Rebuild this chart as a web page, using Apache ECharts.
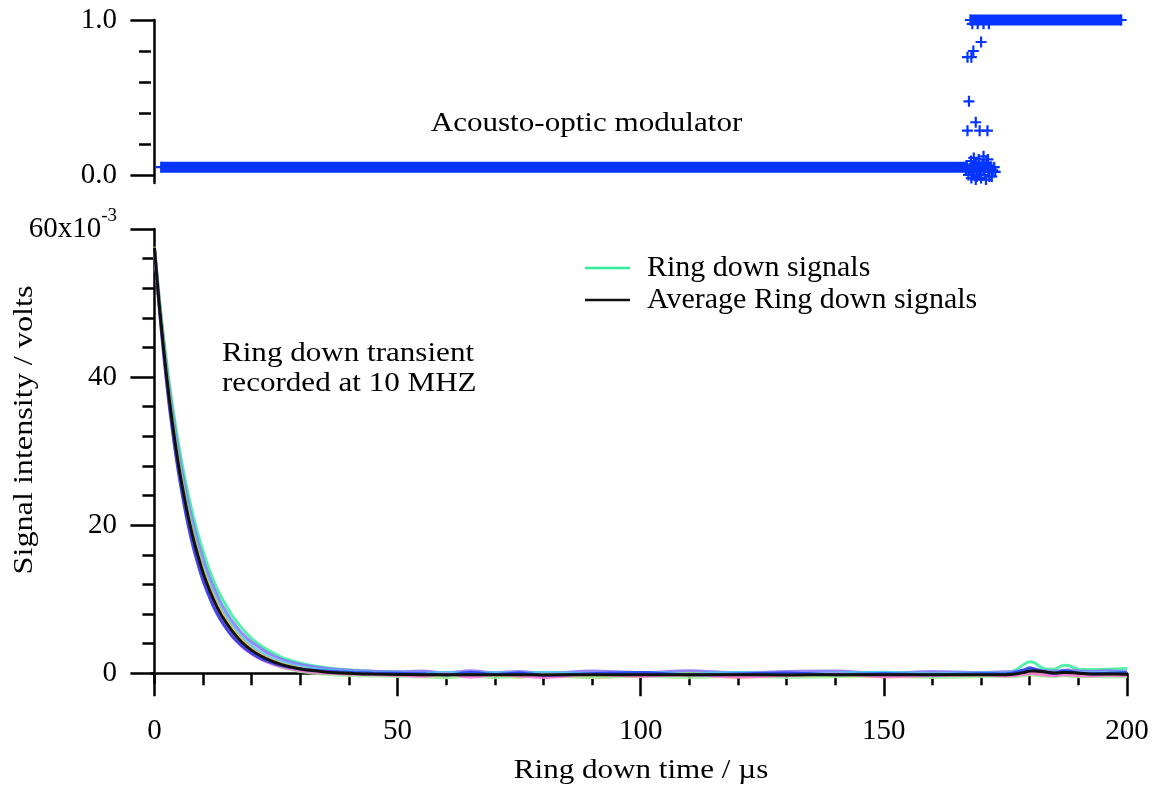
<!DOCTYPE html>
<html><head><meta charset="utf-8">
<script src="https://cdn.jsdelivr.net/npm/echarts@6/dist/echarts.min.js"></script>
<style>html,body{margin:0;padding:0;background:#fff}#c{width:1161px;height:790px}</style>
</head><body><div id="c"></div>
<script>
// ---------------- DATA ----------------
// Ring-down time axis samples (µs)
const t = [0,1,2,3,4,5,6,7,8,9,10,11,12,13,14,16,18,20,22,24,26,28,30,32,35,38,41,45,50,55,60,65,70,75,80,90,100,110,120,130,140,150,160,170,175,177,179,180,181,183,185,187,188,190,193,196,200];

// Average ring down signal (x10^-3 V)
const avgSignal = [57.5,49.8,43.2,37.4,32.4,28.0,24.3,21.0,18.2,15.8,13.6,11.8,10.2,8.8,7.6,5.7,4.2,3.1,2.3,1.67,1.21,0.86,0.59,0.40,0.19,0.05,-0.04,-0.11,-0.15,
  -0.18,-0.2,-0.19,-0.21,-0.2,-0.22,-0.2,-0.21,-0.19,-0.2,-0.22,-0.2,-0.19,-0.21,-0.2,-0.18,-0.1,0.15,0.3,0.32,0.2,0.05,0.1,0.12,0.02,-0.08,-0.1,-0.12];

// Individual ring down signals (x10^-3 V)
const sigGreen = [57.5,50.7,44.8,39.5,34.9,30.8,27.2,24.0,21.2,18.7,16.5,14.5,12.8,11.3,10.0,7.8,6.1,4.7,3.7,2.9,2.2,1.75,1.38,1.1,0.78,0.55,0.4,0.28,0.2,
  0.15,0.05,0.12,0.0,0.1,0.08,0.02,0.12,0.05,0.1,0.0,0.08,0.12,0.05,0.1,0.1,0.4,1.3,1.55,1.4,0.6,0.55,1.1,1.05,0.55,0.5,0.55,0.65];
const sigBlue = [57.4,49.3,42.4,36.4,31.3,26.9,23.1,19.8,17.0,14.6,12.5,10.8,9.2,7.9,6.8,5.0,3.7,2.7,1.95,1.45,1.05,0.8,0.6,0.45,0.3,0.2,0.12,0.05,0.0,
  -0.05,-0.25,0.1,-0.15,0.05,-0.25,-0.05,0.1,-0.2,-0.1,0.05,-0.2,-0.05,-0.2,-0.05,-0.1,0.1,0.5,0.75,0.6,0.2,0.0,0.35,0.3,0.05,-0.05,0.0,0.1];
const sigViolet = [57.6,50.4,44.2,38.7,34.0,29.8,26.1,22.9,20.1,17.6,15.4,13.5,11.9,10.4,9.1,7.0,5.4,4.2,3.3,2.5,1.95,1.5,1.2,0.95,0.68,0.5,0.38,0.27,0.2,
  0.3,0.05,0.35,0.1,0.25,0.0,0.3,0.1,0.35,0.05,0.25,0.3,0.0,0.25,0.1,0.2,0.25,0.45,0.55,0.5,0.35,0.3,0.4,0.45,0.3,0.25,0.35,0.2];
const sigPink = [57.3,49.4,42.6,36.7,31.6,27.2,23.4,20.1,17.2,14.8,12.7,10.9,9.4,8.1,6.9,5.0,3.6,2.6,1.86,1.3,0.9,0.6,0.38,0.2,0.05,-0.05,-0.12,-0.2,-0.25,
  -0.4,-0.1,-0.5,-0.2,-0.35,-0.55,-0.15,-0.4,-0.2,-0.5,-0.3,-0.1,-0.45,-0.3,-0.2,-0.35,-0.3,-0.1,0.0,-0.05,-0.2,-0.3,-0.15,-0.2,-0.3,-0.35,-0.25,-0.3];
const sigLightGreen = [57.5,49.7,43.0,37.2,32.1,27.7,24.0,20.7,17.8,15.4,13.2,11.4,9.8,8.4,7.2,5.2,3.8,2.7,1.9,1.3,0.85,0.5,0.25,0.08,-0.12,-0.25,-0.32,-0.38,-0.42,
  -0.45,-0.6,-0.35,-0.6,-0.45,-0.35,-0.55,-0.4,-0.6,-0.35,-0.55,-0.45,-0.35,-0.55,-0.45,-0.4,-0.45,-0.3,-0.2,-0.25,-0.35,-0.4,-0.3,-0.35,-0.45,-0.4,-0.5,-0.45];
const sigYellow = [57.6,49.9,43.3,37.5,32.5,28.1,24.4,21.1,18.3,15.9,13.7,11.9,10.3,8.9,7.7,5.8,4.3,3.1,2.3,1.65,1.2,0.85,0.6,0.4,0.2,0.06,-0.05,-0.12,-0.18,
  -0.15,-0.35,-0.1,-0.3,-0.4,-0.15,-0.3,-0.35,-0.1,-0.3,-0.2,-0.35,-0.25,-0.15,-0.3,-0.25,-0.2,0.05,0.2,0.15,-0.05,-0.15,0.0,0.05,-0.1,-0.2,-0.25,-0.2];
const sigOrange = [57.5,49.9,43.4,37.7,32.7,28.4,24.7,21.4,18.6,16.2,14.0,12.2,10.6,9.2,8.0,6.0,4.5,3.3,2.45,1.8,1.3,0.95,0.68,0.45,0.22,0.05,-0.08,-0.18,-0.25,
  -0.25,-0.5,-0.3,-0.2,-0.5,-0.25,-0.55,-0.3,-0.25,-0.5,-0.3,-0.2,-0.45,-0.35,-0.25,-0.4,-0.35,-0.2,-0.1,-0.15,-0.3,-0.35,-0.25,-0.3,-0.4,-0.35,-0.3,-0.4];
const sigCyan = [57.6,50.2,43.8,38.2,33.3,29.0,25.3,22.1,19.3,16.8,14.6,12.8,11.1,9.7,8.5,6.5,4.9,3.7,2.8,2.1,1.6,1.2,0.92,0.7,0.45,0.3,0.2,0.1,0.05,
  -0.05,0.15,-0.1,0.1,-0.05,0.15,-0.1,0.1,-0.05,0.12,-0.1,0.05,0.15,-0.05,0.05,0.0,0.1,0.35,0.5,0.45,0.2,0.1,0.3,0.3,0.1,0.05,0.1,0.15];

// Acousto-optic modulator: steady levels (start/end time, level) and scattered samples
const aomLowBand = [[1.4, 0.05], [166.9, 0.05]];
const aomHighBand = [[167.8, 1.0], [198.8, 1.0]];
const aomSamples = [
  [1.4,0.05],[166.9,0.05],[167.8,1.0],[198.8,1.0],
  [168.2,0.975],[169.3,0.975],[170.5,0.975],[171.6,0.975],
  [170.0,0.858],[168.4,0.80],[167.2,0.76],[168.0,0.76],[167.5,0.475],[168.9,0.34],
  [167.2,0.286],[169.7,0.286],[171.3,0.286],
  [166.9,0.03],[167.4,0.0],[167.9,0.09],[168.3,0.02],[168.7,0.07],[169.1,-0.01],[169.5,0.1],
  [169.9,0.03],[170.3,0.06],[170.7,0.0],[171.1,0.08],[171.5,0.02],[171.9,0.05],[172.4,0.03],
  [168.5,0.11],[170.5,0.12],[169.3,0.0],[171.7,-0.01],[172.7,0.05],
  [167.1,0.06],[167.6,0.04],[168.1,0.05],[168.6,0.03],[168.9,0.06],[169.3,0.05],[169.7,0.04],
  [170.1,0.05],[170.5,0.04],[170.9,0.05],[171.3,0.06],[171.7,0.04],[172.1,0.05],[172.9,0.02],
  [168.0,-0.02],[168.9,-0.03],[170.0,-0.02],[171.0,-0.03],[172.2,-0.01],[169.6,0.08],[171.4,0.1]
];

// Tick values
const xMajorTicks = [0, 50, 100, 150, 200];
const xMinorTicks = [10,20,30,40,60,70,80,90,110,120,130,140,160,170,180,190];
const aomMajorTicks = [0, 1];
const aomMinorTicks = [0.2, 0.4, 0.6, 0.8];
const sigMajorTicks = [0, 20, 40, 60];
const sigMinorTicks = [4,8,12,16,24,28,32,36,44,48,52,56];

// Series names / colours
const signalSeries = [
  ['Ring down signals', sigGreen, '#33ee99'],
  ['signal 2', sigViolet, '#8a70ff'],
  ['signal 3', sigCyan, '#55c8f0'],
  ['signal 4', sigOrange, '#ffa850'],
  ['signal 5', sigYellow, '#c8ee10'],
  ['signal 6', sigLightGreen, '#a0f0a0'],
  ['signal 7', sigPink, '#ff70dd'],
  ['signal 8', sigBlue, '#2438ee']
];

// ---------------- CHART ----------------
const FONT = '"Liberation Serif", "Times New Roman", serif';
const pair = arr => t.map((x, i) => [x, arr[i]]).filter(p => p[1] !== undefined);
const plusPath = 'path://M4,0H6V4H10V6H6V10H4V6H0V4H4Z';
const AOM_BLUE = '#0535ff';

const axisLineStyle = { show: true, lineStyle: { color: '#000', width: 2.5 } };

const series = [];
series.push({ type: 'line', name: 'AOM low', xAxisIndex: 0, yAxisIndex: 0, data: aomLowBand, symbol: 'none', clip: false, silent: true,
  lineStyle: { color: AOM_BLUE, width: 11, cap: 'butt' } });
series.push({ type: 'line', name: 'AOM high', xAxisIndex: 0, yAxisIndex: 0, data: aomHighBand, symbol: 'none', clip: false, silent: true,
  lineStyle: { color: AOM_BLUE, width: 11, cap: 'butt' } });
series.push({ type: 'scatter', name: 'AOM', xAxisIndex: 0, yAxisIndex: 0, data: aomSamples, symbol: plusPath, symbolSize: 11, clip: false,
  itemStyle: { color: AOM_BLUE, opacity: 1 } });

signalSeries.forEach(([name, arr, color]) => {
  series.push({ type: 'line', name, xAxisIndex: 1, yAxisIndex: 2, data: pair(arr), symbol: 'none', smooth: 0.3,
    color, lineStyle: { color, width: 3, opacity: 0.85 } });
});
series.push({ type: 'line', name: 'Average Ring down signals', xAxisIndex: 1, yAxisIndex: 2, data: pair(avgSignal), symbol: 'none', smooth: 0.3,
  color: '#111', lineStyle: { color: '#111', width: 3 }, z: 5 });

const chart = echarts.init(document.getElementById('c'), null, { renderer: 'canvas' });
chart.setOption({
  animation: false,
  backgroundColor: '#fff',
  textStyle: { fontFamily: FONT },
  grid: [
    { left: 151, top: 20, width: 976, height: 163, containLabel: false, outerBoundsMode: 'none' },
    { left: 151, top: 229, width: 976, height: 454.3, containLabel: false, outerBoundsMode: 'none' }
  ],
  xAxis: [
    { type: 'value', gridIndex: 0, min: -0.7, max: 200, show: false },
    { type: 'value', gridIndex: 1, min: -0.7, max: 200, position: 'bottom', offset: 0,
      axisLine: axisLineStyle,
      axisTick: { show: true, customValues: xMajorTicks, length: 23, lineStyle: { color: '#000', width: 2.5 } },
      axisLabel: { show: true, customValues: xMajorTicks, margin: 34, color: '#000', fontSize: 29, fontFamily: FONT },
      splitLine: { show: false } },
    { type: 'value', gridIndex: 1, min: -0.7, max: 200, position: 'bottom', offset: 0,
      axisLine: { show: false },
      axisTick: { show: true, customValues: xMinorTicks, length: 12, lineStyle: { color: '#000', width: 2.5 } },
      axisLabel: { show: false }, splitLine: { show: false } }
  ],
  yAxis: [
    { type: 'value', gridIndex: 0, min: -0.052, max: 1.0, position: 'left', offset: 0,
      axisLine: axisLineStyle,
      axisTick: { show: true, customValues: aomMajorTicks, length: 24, lineStyle: { color: '#000', width: 2.5 } },
      axisLabel: { show: true, customValues: aomMajorTicks, margin: 34, color: '#000', fontSize: 29, fontFamily: FONT,
        formatter: v => Number(v).toFixed(1) },
      splitLine: { show: false } },
    { type: 'value', gridIndex: 0, min: -0.052, max: 1.0, position: 'left', offset: 0,
      axisLine: { show: false },
      axisTick: { show: true, customValues: aomMinorTicks, length: 12, lineStyle: { color: '#000', width: 2.5 } },
      axisLabel: { show: false }, splitLine: { show: false } },
    { type: 'value', gridIndex: 1, min: -1.35, max: 60, position: 'left', offset: 0,
      axisLine: axisLineStyle,
      axisTick: { show: true, customValues: sigMajorTicks, length: 24, lineStyle: { color: '#000', width: 2.5 } },
      axisLabel: { show: true, customValues: sigMajorTicks, margin: 34, color: '#000', fontSize: 29, fontFamily: FONT,
        formatter: v => (v === 60 ? '{a|60x10}{sup|-3}' : '{a|' + v + '}'),
        rich: {
          a: { fontSize: 29, fontFamily: FONT, color: '#000' },
          sup: { fontSize: 19, fontFamily: FONT, color: '#000', padding: [0, 0, 26, 0] }
        } },
      splitLine: { show: false } },
    { type: 'value', gridIndex: 1, min: -1.35, max: 60, position: 'left', offset: 0,
      axisLine: { show: false },
      axisTick: { show: true, customValues: sigMinorTicks, length: 12, lineStyle: { color: '#000', width: 2.5 } },
      axisLabel: { show: false }, splitLine: { show: false } }
  ],
  legend: {
    show: true,
    data: ['Ring down signals', 'Average Ring down signals'],
    orient: 'vertical',
    left: 585, top: 252,
    icon: 'rect', itemWidth: 45, itemHeight: 2.5, itemGap: 0,
    padding: 0,
    textStyle: { fontSize: 30, fontFamily: FONT, color: '#000', lineHeight: 32, padding: [0, 0, 0, 12] }
  },
  graphic: [
    { type: 'text', x: 586.5, y: 124, scaleX: 1.11, silent: true,
      style: { text: 'Acousto-optic modulator', font: '28px ' + FONT, fill: '#000', align: 'center', verticalAlign: 'middle' } },
    { type: 'text', x: 222, y: 354, scaleX: 1.11, silent: true,
      style: { text: 'Ring down transient', font: '28px ' + FONT, fill: '#000', align: 'left', verticalAlign: 'middle' } },
    { type: 'text', x: 222, y: 384, scaleX: 1.11, silent: true,
      style: { text: 'recorded at 10 MHZ', font: '28px ' + FONT, fill: '#000', align: 'left', verticalAlign: 'middle' } },
    { type: 'text', x: 641, y: 771, scaleX: 1.11, silent: true,
      style: { text: 'Ring down time / µs', font: '28px ' + FONT, fill: '#000', align: 'center', verticalAlign: 'middle' } },
    { type: 'text', x: 25, y: 430, rotation: Math.PI / 2, scaleX: 1.15, silent: true,
      style: { text: 'Signal intensity / volts', font: '28px ' + FONT, fill: '#000', align: 'center', verticalAlign: 'middle' } }
  ],
  series
});
</script></body></html>
